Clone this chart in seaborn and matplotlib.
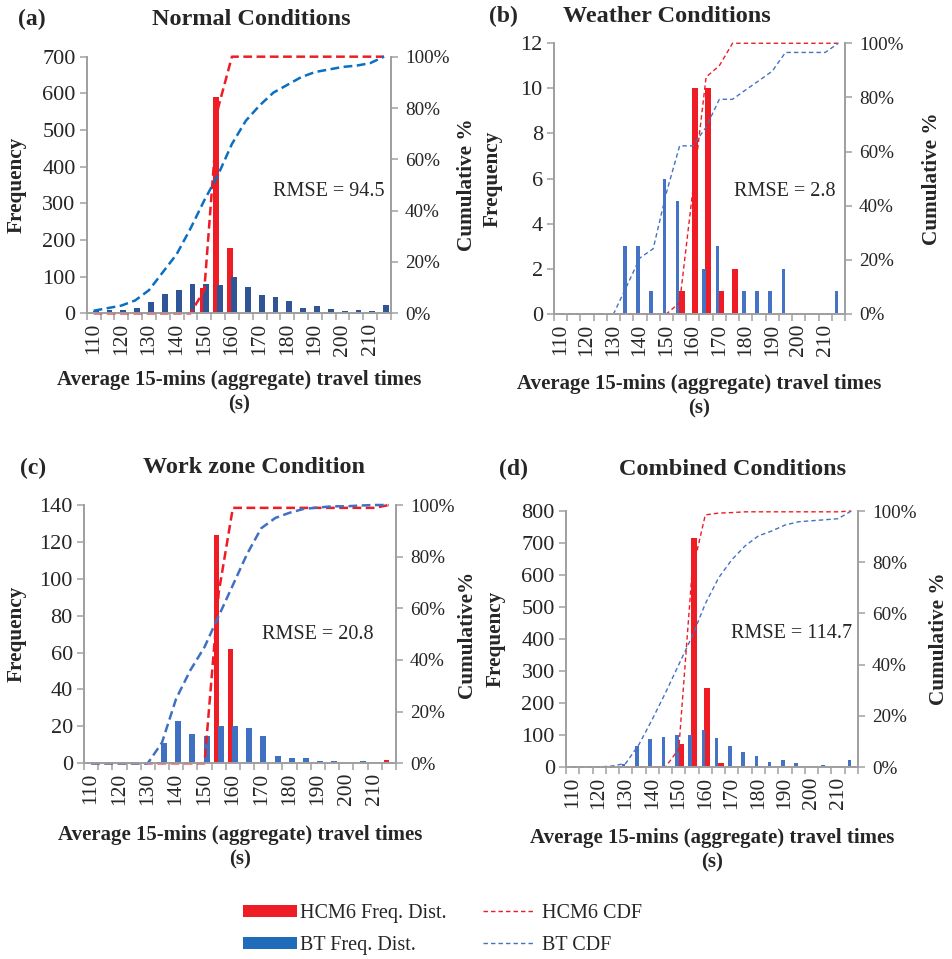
import numpy as np
import matplotlib
matplotlib.use("Agg")
import matplotlib.pyplot as plt
import seaborn as sns
from matplotlib.patches import Patch
from matplotlib.lines import Line2D

# ---------------- data ----------------
categories = ["110", "115", "120", "125", "130", "135", "140", "145", "150", "155", "160",
              "165", "170", "175", "180", "185", "190", "195", "200", "205", "210", "215"]
tick_labels = ["110", "120", "130", "140", "150", "160", "170", "180", "190", "200", "210"]

# (a) Normal conditions
a_hcm = [0, 0, 0, 0, 0, 0, 0, 0, 69, 591, 177, 0, 0, 0, 0, 0, 0, 0, 0, 0, 0, 0]
a_bt = [7, 9, 8, 15, 32, 54, 64, 80, 80, 78, 99, 73, 50, 45, 33, 14, 21, 12, 6, 8, 5, 22]
a_hcm_cdf = [0, 0, 0, 0, 0, 0, 0, 0, 9, 80, 100, 100, 100, 100, 100, 100, 100, 100, 100, 100, 100, 100]
a_bt_cdf = [1, 2, 3, 5, 9, 16, 23, 33, 44, 54, 66, 75, 81, 86, 89, 92, 94, 95, 96, 96.5, 97.5, 100]

# (b) Weather conditions
b_hcm = [0, 0, 0, 0, 0, 0, 0, 0, 0, 1, 10, 10, 1, 2, 0, 0, 0, 0, 0, 0, 0, 0]
b_bt = [0, 0, 0, 0, 0, 3, 3, 1, 6, 5, 0, 2, 3, 0, 1, 1, 1, 2, 0, 0, 0, 1]
b_hcm_cdf = [0, 0, 0, 0, 0, 0, 0, 0, 0, 4.2, 45.8, 87.5, 91.7, 100, 100, 100, 100, 100, 100, 100, 100, 100]
b_bt_cdf = [0, 0, 0, 0, 0, 10.3, 20.7, 24.1, 44.8, 62.1, 62.1, 69, 79.3, 79.3, 82.8, 86.2, 89.7,
            96.6, 96.6, 96.6, 96.6, 100]

# (c) Work zone condition
c_hcm = [0, 0, 0, 0, 0, 0, 0, 0, 0, 124, 62, 0, 0, 0, 0, 0, 0, 0, 0, 0, 0, 2]
c_bt = [0, 0, 0, 0, 0, 11, 23, 16, 15, 20, 20, 19, 15, 4, 3, 3, 1.5, 1.5, 0, 1.5, 0, 0]
c_hcm_cdf = [0, 0, 0, 0, 0, 0, 0, 0, 0, 66, 98.9, 98.9, 98.9, 98.9, 98.9, 98.9, 98.9, 98.9,
             98.9, 98.9, 98.9, 100]
c_bt_cdf = [0, 0, 0, 0, 0, 8, 25, 36, 45, 57, 69, 81, 91, 95, 97, 98.5, 99, 99.5, 99.5, 99.8, 100, 100]

# (d) Combined conditions
d_hcm = [0, 0, 0, 0, 0, 0, 0, 0, 71, 717, 247, 13, 2, 4, 0, 0, 0, 0, 0, 0, 0, 4]
d_bt = [0, 0, 0, 4, 9, 66, 88, 94, 99, 99, 115, 90, 66, 47, 35, 17, 21, 14, 4, 6, 3, 22]
d_hcm_cdf = [0, 0, 0, 0, 0, 0, 0, 0, 7, 76, 98.5, 99.2, 99.4, 99.7, 99.7, 99.7, 99.7, 99.7,
             99.7, 99.7, 99.7, 100]
d_bt_cdf = [0, 0, 0, 0.4, 1.4, 8.8, 18.6, 29, 40, 51, 63.8, 73.9, 81, 86.4, 90.3, 92.2, 94.5,
            95.8, 96.2, 96.6, 97.0, 100]

panel_letters = ["(a)", "(b)", "(c)", "(d)"]
panel_titles = ["Normal Conditions", "Weather Conditions", "Work zone Condition", "Combined Conditions"]
rmse_texts = ["RMSE = 94.5", "RMSE = 2.8", "RMSE = 20.8", "RMSE = 114.7"]
right_labels = ["Cumulative %", "Cumulative %", "Cumulative%", "Cumulative %"]
legend_bar_labels = ["HCM6 Freq. Dist.", "BT Freq. Dist."]
legend_line_labels = ["HCM6 CDF", "BT CDF"]

# ---------------- style ----------------
sns.set_style("white")
plt.rcParams['font.family'] = ['Liberation Serif', 'DejaVu Serif']

RED = "#EE1C25"
GREY = "#A0A0A0"

fig = plt.figure(figsize=(9.52, 9.59), dpi=100)

panels = [
    dict(rect=[0.0911, 0.6733, 0.3196, 0.2676], hcm=a_hcm, bt=a_bt, hcdf=a_hcm_cdf, bcdf=a_bt_cdf,
         ymax=700, ystep=100, red_off=-0.14, blue_off=0.15, rw=0.40, bw=0.42,
         bcol="#2F5597", lcol="#0A6FC2", lw=1.8, dash=(3.5, 1.8),
         letter=(0.019, 0.980), title=(0.2637, 0.980), rmse=(0.4034, 0.800),
         ylab=-0.197, rlab=1.217, xlab=-0.222),
    dict(rect=[0.5819, 0.6726, 0.3057, 0.2823], hcm=b_hcm, bt=b_bt, hcdf=b_hcm_cdf, bcdf=b_bt_cdf,
         ymax=12, ystep=2, red_off=0.15, blue_off=-0.15, rw=0.45, bw=0.27,
         bcol="#4472C4", lcol="#4472C4", lw=1.0, dash=(3.2, 2.2),
         letter=(0.514, 0.983), title=(0.7006, 0.983), rmse=(0.878, 0.800),
         ylab=-0.175, rlab=1.265, xlab=-0.222),
    dict(rect=[0.0882, 0.2041, 0.3277, 0.2693], hcm=c_hcm, bt=c_bt, hcdf=c_hcm_cdf, bcdf=c_bt_cdf,
         ymax=140, ystep=20, red_off=-0.15, blue_off=0.15, rw=0.38, bw=0.42,
         bcol="#3F70C2", lcol="#3F70C2", lw=1.8, dash=(3.5, 1.8),
         letter=(0.021, 0.512), title=(0.2665, 0.512), rmse=(0.392, 0.338),
         ylab=-0.183, rlab=1.196, xlab=-0.238),
    dict(rect=[0.5945, 0.2002, 0.3067, 0.2669], hcm=d_hcm, bt=d_bt, hcdf=d_hcm_cdf, bcdf=d_bt_cdf,
         ymax=800, ystep=100, red_off=0.15, blue_off=-0.15, rw=0.45, bw=0.27,
         bcol="#4472C4", lcol="#4472C4", lw=1.0, dash=(3.2, 2.2),
         letter=(0.524, 0.510), title=(0.769, 0.510), rmse=(0.895, 0.339),
         ylab=-0.205, rlab=1.243, xlab=-0.238),
]

pos = np.arange(len(categories))

for i, p in enumerate(panels):
    ax = fig.add_axes(p["rect"])
    sns.barplot(x=pos + p["red_off"], y=p["hcm"], native_scale=True, width=p["rw"],
                color=RED, saturation=1, errorbar=None, linewidth=0, ax=ax)
    sns.barplot(x=pos + p["blue_off"], y=p["bt"], native_scale=True, width=p["bw"],
                color=p["bcol"], saturation=1, errorbar=None, linewidth=0, ax=ax)
    ax.set_xlim(-0.5, len(categories) - 0.5)
    ax.set_ylim(0, p["ymax"])
    yt = np.arange(0, p["ymax"] + p["ystep"] / 2, p["ystep"])
    ax.set_yticks(yt)
    ax.set_yticklabels([f"{int(v)}" for v in yt])

    ax2 = ax.twinx()
    sns.lineplot(x=pos, y=np.array(p["hcdf"]) / 100.0, ax=ax2, color=RED, lw=p["lw"],
                 linestyle=(0, p["dash"]), clip_on=False)
    sns.lineplot(x=pos, y=np.array(p["bcdf"]) / 100.0, ax=ax2, color=p["lcol"], lw=p["lw"],
                 linestyle=(0, p["dash"]), clip_on=False)
    ax2.set_xlim(-0.5, len(categories) - 0.5)
    ax2.set_ylim(0, 1.0)
    pt = np.arange(0, 1.01, 0.2)
    ax2.set_yticks(pt)
    ax2.set_yticklabels([f"{int(round(v * 100))}%" for v in pt])

    # x ticks: marks at category boundaries, labels every other category
    ax.set_xticks(np.arange(-0.5, len(categories), 1.0))
    ax.set_xticklabels([])
    ax.set_xticks(np.arange(0, len(categories), 2), minor=True)
    ax.set_xticklabels(tick_labels, minor=True, rotation=90, fontsize=15.5)
    ax.tick_params(axis="x", which="major", bottom=True, direction="out", length=5,
                   width=1.1, color=GREY)
    ax.tick_params(axis="x", which="minor", bottom=True, length=0, pad=7)
    ax.tick_params(axis="y", left=True, direction="out", length=5, width=1.1, color=GREY,
                   labelsize=16, pad=3)
    ax2.tick_params(axis="y", right=True, direction="out", length=5, width=1.1, color=GREY,
                    labelsize=13.8, pad=5)

    for a in (ax, ax2):
        a.spines["top"].set_visible(False)
        for s in ("left", "right", "bottom"):
            a.spines[s].set_color(GREY)
            a.spines[s].set_linewidth(1.3)

    ax.set_ylabel("Frequency", fontsize=15.3, fontweight="bold")
    ax.yaxis.set_label_coords(p["ylab"], 0.5)
    ax2.set_ylabel(right_labels[i], fontsize=15.3, fontweight="bold")
    ax2.yaxis.set_label_coords(p["rlab"], 0.5)
    ax.set_xlabel("Average 15-mins (aggregate) travel times\n(s)", fontsize=15,
                  fontweight="bold", linespacing=1.3)
    ax.xaxis.set_label_coords(0.5, p["xlab"])
    ax2.set_xlabel("")

    fig.text(*p["letter"], panel_letters[i], fontsize=17, fontweight="bold", ha="left", va="center")
    fig.text(*p["title"], panel_titles[i], fontsize=17.5, fontweight="bold", ha="center", va="center")
    fig.text(*p["rmse"], rmse_texts[i], fontsize=14.5, ha="right", va="center")

bar_handles = [Patch(facecolor=RED, edgecolor="none"),
               Patch(facecolor="#1F6CBA", edgecolor="none")]
line_handles = [Line2D([0], [0], color=RED, lw=1.0, linestyle=(0, (3.2, 2.2))),
                Line2D([0], [0], color="#4472C4", lw=1.0, linestyle=(0, (3.2, 2.2)))]
leg1 = fig.legend(handles=bar_handles, labels=legend_bar_labels, loc="center left",
                  bbox_to_anchor=(243 / 952, 0.031), frameon=False, fontsize=14.5,
                  handlelength=2.7, handleheight=0.55, handletextpad=0.15,
                  labelspacing=0.65, borderpad=0, borderaxespad=0)
leg2 = fig.legend(handles=line_handles, labels=legend_line_labels, loc="center left",
                  bbox_to_anchor=(483 / 952, 0.031), frameon=False, fontsize=14.5,
                  handlelength=2.5, handletextpad=0.45,
                  labelspacing=0.65, borderpad=0, borderaxespad=0)

fig.savefig("out.png", dpi=100)
